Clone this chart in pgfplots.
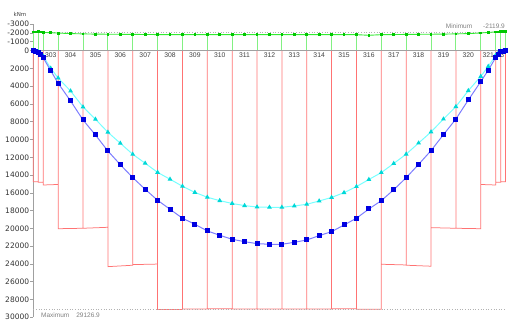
\documentclass[border=0pt]{standalone}
\usepackage{pgfplots}
\pgfplotsset{compat=1.18}
\usepackage{pgfplotstable}
\usepackage{fontspec}
\setmainfont{DejaVu Sans}
\newfontfamily\lib{Liberation Sans}
\definecolor{redl}{RGB}{255,115,115}
\definecolor{greenl}{RGB}{50,235,50}
\definecolor{greenv}{RGB}{130,240,130}
\definecolor{greenm}{RGB}{0,200,0}
\definecolor{bluel}{RGB}{125,125,255}
\definecolor{bluem}{RGB}{0,0,225}
\definecolor{cyanl}{RGB}{120,255,255}
\definecolor{cyanm}{RGB}{0,215,215}
\definecolor{axisgray}{RGB}{160,160,160}

\pgfplotstableread{
x y
0 0
0.1 60
0.2 200
0.3 450
0.4 800
0.7 2250
1 3670
1.5 5660
2 7800
2.5 9490
3 11290
3.5 12830
4 14290
4.5 15600
5 16840
5.5 17850
6 18860
6.5 19540
7 20290
7.5 20780
8 21230
8.5 21500
9 21720
9.5 21790
10 21790
10.5 21570
11 21310
11.5 20820
12 20370
12.5 19620
13 18860
13.5 17820
14 16880
14.5 15650
15 14300
15.5 12800
16 11250
16.5 9450
17 7700
17.5 5550
18 3490
18.3 2210
18.6 790
18.7 420
18.8 150
18.9 40
19 0
}\blueT

\pgfplotstableread{
x y
0 0
0.1 50
0.2 150
0.3 350
0.4 620
0.7 1980
1 3080
1.5 4540
2 6340
2.5 7720
3 9180
3.5 10420
4 11660
4.5 12670
5 13700
5.5 14470
6 15260
6.5 15950
7 16500
7.5 16880
8 17200
8.5 17440
9 17600
9.5 17630
10 17630
10.5 17480
11 17290
11.5 16920
12 16520
12.5 15980
13 15300
13.5 14500
14 13720
14.5 12700
15 11650
15.5 10400
16 9150
16.5 7700
17 6300
17.5 4500
18 2900
18.3 1780
18.6 520
18.7 280
18.8 100
18.9 30
19 0
}\cyanT

\pgfplotstableread{
x y
0 -2110
0.1 -2115
0.2 -2120
0.3 -2100
0.4 -2060
0.7 -2020
1 -1980
1.5 -1920
2 -1890
2.5 -1860
3 -1850
3.5 -1840
4 -1830
4.5 -1820
5 -1810
5.5 -1800
6 -1800
6.5 -1800
7 -1800
7.5 -1800
8 -1800
8.5 -1800
9 -1800
9.5 -1800
10 -1800
10.5 -1800
11 -1800
11.5 -1800
12 -1800
12.5 -1800
13 -1800
13.5 -1730
14 -1800
14.5 -1810
15 -1830
15.5 -1840
16 -1850
16.5 -1860
17 -1890
17.5 -1920
18 -1990
18.3 -2050
18.6 -2110
18.7 -2115
18.8 -2120
18.9 -2120
19 -2120
}\greenT

\pgfplotstableread{
x y
0 0
0 -2110
nan nan
0.2 0
0.2 -2120
nan nan
0.4 0
0.4 -2060
nan nan
1 0
1 -1980
nan nan
2 0
2 -1890
nan nan
3 0
3 -1850
nan nan
4 0
4 -1830
nan nan
5 0
5 -1810
nan nan
6 0
6 -1800
nan nan
7 0
7 -1800
nan nan
8 0
8 -1800
nan nan
9 0
9 -1800
nan nan
10 0
10 -1800
nan nan
11 0
11 -1800
nan nan
12 0
12 -1800
nan nan
13 0
13 -1800
nan nan
14 0
14 -1800
nan nan
15 0
15 -1830
nan nan
16 0
16 -1850
nan nan
17 0
17 -1890
nan nan
18 0
18 -1990
nan nan
18.6 0
18.6 -2110
nan nan
18.8 0
18.8 -2120
nan nan
19 0
19 -2120
}\greenV

\pgfplotstableread{
x y
0 0
0 14750
0.2 14750
0.2 0
0.2 14800
0.4 14800
0.4 0
0.4 15120
1 15060
1 0
1 20040
2 19990
2 0
2 19990
3 19880
3 0
3 24310
4 24150
4 0
4 24080
5 24020
5 0
5 29127
6 29127
6 0
6 29080
7 29080
7 0
7 29060
8 29060
8 0
8 29070
9 29070
9 0
9 29080
10 29080
10 0
10 29080
11 29080
11 0
11 29070
12 29070
12 0
12 29060
13 29060
13 0
13 29110
14 29110
14 0
14 24040
15 24120
15 0
15 24150
16 24260
16 0
16 19920
17 19990
17 0
17 19990
18 20040
18 0
18 15060
18.6 15120
18.6 0
18.6 14800
18.8 14800
18.8 0
18.8 14750
19 14750
19 0
}\redT

\begin{document}
\begin{tikzpicture}
\path[use as bounding box] (0pt,0pt) rectangle (508pt,324pt);
\begin{axis}[
  at={(33.3pt,6.8pt)}, anchor=south west,
  width=472.3pt, height=293.2pt, scale only axis,
  xmin=0, xmax=19, ymin=-3000, ymax=30000, y dir=reverse,
  axis x line=none, axis y line*=left,
  xtick=\empty,
  ytick={-3000,-2000,-1000,0,2000,4000,6000,8000,10000,12000,14000,16000,18000,20000,22000,24000,26000,28000,30000},
  y axis line style={draw=axisgray, line width=0.8pt},
  ytick style={draw=axisgray, line width=0.6pt},
  tick align=outside, major tick length=3pt,
  yticklabel style={font=\fontsize{7.5}{8}\selectfont, text=black!80, inner sep=1pt},
  /pgf/number format/assume math mode=true,
  /pgf/number format/1000 sep={},
  scaled y ticks=false,
  clip=false,
  unbounded coords=jump,
]
\addplot[draw=redl, line width=0.75pt, mark=none] table {\redT};
\addplot[draw=greenv, line width=0.8pt, mark=none] table {\greenV};
\addplot[draw=axisgray, line width=1.4pt, mark=none] coordinates {(0,0) (19.09,0)};
\addplot[draw=gray!60, line width=0.6pt, dotted, mark=none] coordinates {(0,-2119.9) (19,-2119.9)};
\addplot[draw=gray!60, line width=0.6pt, dotted, mark=none] coordinates {(0,29126.9) (19,29126.9)};
\addplot[draw=greenl, line width=0.9pt, mark=square*, mark size=0.9pt, mark options={fill=greenm, draw=greenm}] table {\greenT};
\addplot[draw=cyanl, line width=1.0pt, mark=triangle*, mark size=1.8pt, mark options={fill=cyanm, draw=cyanm}] table {\cyanT};
\addplot[draw=bluel, line width=1.0pt, mark=square*, mark size=2.0pt, mark options={fill=bluem, draw=bluem}] table {\blueT};
\begin{scope}[every node/.style={font=\lib\fontsize{6.8}{7}\selectfont, text=black!75, inner sep=0pt}]
\node at (axis cs:0.7,480) {303};
\node at (axis cs:1.5,480) {304};
\node at (axis cs:2.5,480) {305};
\node at (axis cs:3.5,480) {306};
\node at (axis cs:4.5,480) {307};
\node at (axis cs:5.5,480) {308};
\node at (axis cs:6.5,480) {309};
\node at (axis cs:7.5,480) {310};
\node at (axis cs:8.5,480) {311};
\node at (axis cs:9.5,480) {312};
\node at (axis cs:10.5,480) {313};
\node at (axis cs:11.5,480) {314};
\node at (axis cs:12.5,480) {315};
\node at (axis cs:13.5,480) {316};
\node at (axis cs:14.5,480) {317};
\node at (axis cs:15.5,480) {318};
\node at (axis cs:16.5,480) {319};
\node at (axis cs:17.5,480) {320};
\node at (axis cs:18.3,480) {321};
\node at (axis cs:18.87,480) {3};
\end{scope}
\end{axis}
\node[font=\fontsize{5.5}{6}\selectfont, text=black!75, inner sep=0pt] at (20pt,309.5pt) {kNm};
\node[font=\lib\fontsize{6.5}{6.5}\selectfont, text=black!50, inner sep=0pt, anchor=base east] at (505pt,295.5pt) {Minimum\hspace{11pt}-2119.9};
\node[font=\lib\fontsize{6.5}{6.5}\selectfont, text=black!50, inner sep=0pt, anchor=base west] at (41pt,7pt) {Maximum\hspace{7pt}29126.9};
\end{tikzpicture}
\end{document}
